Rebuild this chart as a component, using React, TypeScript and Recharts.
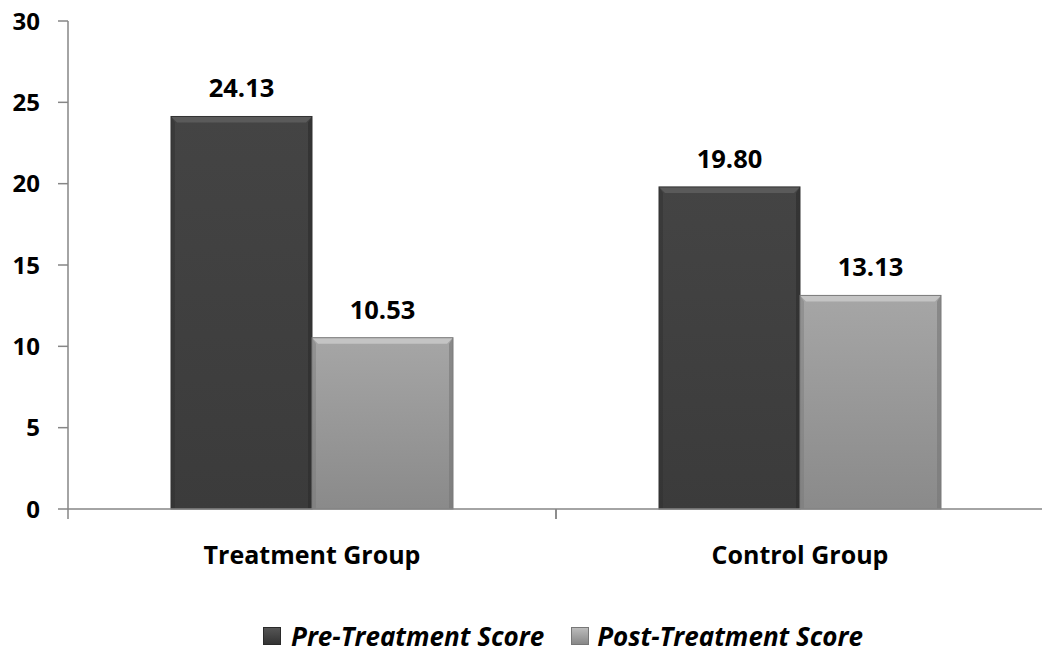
import React from "react";
import { BarChart, Bar, XAxis, YAxis, LabelList, Legend } from "recharts";

const categories = ["Treatment Group", "Control Group"];
const preScores = [24.13, 19.8];
const postScores = [10.53, 13.13];
const yTicks = [0, 5, 10, 15, 20, 25, 30];
const seriesNames = ["Pre-Treatment Score", "Post-Treatment Score"];

const data = categories.map((c, i) => ({ name: c, pre: preScores[i], post: postScores[i] }));

const FONT = "'Open Sans', 'Liberation Sans', sans-serif";

const BevelBar = (props: any) => {
  const { x, y, width, height, kind } = props;
  if (!height || height <= 0) return null;
  const dark = kind === "pre";
  const b = 6;
  const main = dark ? "url(#gPre)" : "url(#gPost)";
  const topHi = dark ? "#5a5a5a" : "#c4c4c4";
  const side = dark ? "#2c2c2c" : "#767676";
  return (
    <g>
      <rect x={x} y={y} width={width} height={height} fill={main} />
      <polygon
        points={`${x},${y} ${x + width},${y} ${x + width - b},${y + b} ${x + b},${y + b}`}
        fill={topHi}
      />
      <polygon
        points={`${x + width},${y} ${x + width},${y + height} ${x + width - b + 2},${y + height} ${x + width - b + 2},${y + b}`}
        fill={side}
        opacity={0.6}
      />
      <polygon
        points={`${x},${y} ${x},${y + height} ${x + b - 2},${y + height} ${x + b - 2},${y + b}`}
        fill={side}
        opacity={0.4}
      />
      <rect x={x} y={y} width={width} height={height} fill="none" stroke={dark ? "#333" : "#7a7a7a"} strokeWidth={1} />
    </g>
  );
};

const XTick = (props: any) => {
  const { x, y, payload } = props;
  const half = payload && payload.offset ? payload.offset : 243.8;
  return (
    <g>
      <line x1={x - half} y1={y} x2={x - half} y2={y + 10} stroke="#868686" strokeWidth={1.5} />
      <line x1={x + half} y1={y} x2={x + half} y2={y + 10} stroke="#868686" strokeWidth={1.5} />
      <text x={x} y={y + 55} textAnchor="middle" fontFamily={FONT} fontWeight={700} fontSize={25} fill="#000">
        {payload.value}
      </text>
    </g>
  );
};

const LegendContent = () => (
  <div
    style={{
      height: 26,
      display: "flex",
      justifyContent: "center",
      alignItems: "center",
      fontFamily: FONT,
      fontWeight: 700,
      fontStyle: "italic",
      fontSize: 26,
      lineHeight: "26px",
      color: "#000",
      paddingLeft: 82,
    }}
  >
    {seriesNames.map((n, i) => (
      <div key={n} style={{ display: "flex", alignItems: "center", marginRight: i === 0 ? 27 : 0 }}>
        <div
          style={{
            width: 18,
            height: 18,
            marginRight: i === 0 ? 10 : 8,
            background: i === 0 ? "linear-gradient(#555, #333)" : "linear-gradient(#bbb, #888)",
            border: i === 0 ? "1px solid #2a2a2a" : "1px solid #777",
            boxSizing: "border-box",
          }}
        />
        <span style={{ whiteSpace: "nowrap" }}>{n}</span>
      </div>
    ))}
  </div>
);

export default function App() {
  return (
    <div style={{ position: "absolute", left: 0, top: 0, width: 1042, height: 653, overflow: "hidden", background: "#fff" }}>
      <BarChart
        width={1044}
        height={653}
        data={data}
        margin={{ top: 21, right: 0, bottom: 4, left: 0 }}
        barCategoryGap={103}
        barGap={0}
      >
        <defs>
          <linearGradient id="gPre" x1="0" y1="0" x2="0" y2="1">
            <stop offset="0%" stopColor="#444" />
            <stop offset="100%" stopColor="#3b3b3b" />
          </linearGradient>
          <linearGradient id="gPost" x1="0" y1="0" x2="0" y2="1">
            <stop offset="0%" stopColor="#a6a6a6" />
            <stop offset="100%" stopColor="#8a8a8a" />
          </linearGradient>
        </defs>
        <XAxis
          dataKey="name"
          height={114}
          tickLine={false}
          tickSize={0}
          tickMargin={0}
          axisLine={{ stroke: "#868686", strokeWidth: 1.5 }}
          tick={<XTick />}
          interval={0}
        />
        <YAxis
          width={68}
          domain={[0, 30]}
          ticks={yTicks}
          tickSize={10}
          tickMargin={18}
          axisLine={{ stroke: "#868686", strokeWidth: 1.5 }}
          tickLine={{ stroke: "#868686", strokeWidth: 1.5 }}
          tick={{ fontFamily: FONT, fontWeight: 700, fontSize: 24, fill: "#000" }}
        />
        <Legend verticalAlign="bottom" content={<LegendContent />} />
        <Bar dataKey="pre" name={seriesNames[0]} isAnimationActive={false} shape={<BevelBar kind="pre" />}>
          <LabelList
            dataKey="pre"
            position="top"
            offset={19}
            formatter={(v: any) => Number(v).toFixed(2)}
            style={{ fontFamily: FONT, fontWeight: 700, fontSize: 25.5, fill: "#000" }}
          />
        </Bar>
        <Bar dataKey="post" name={seriesNames[1]} isAnimationActive={false} shape={<BevelBar kind="post" />}>
          <LabelList
            dataKey="post"
            position="top"
            offset={19}
            formatter={(v: any) => Number(v).toFixed(2)}
            style={{ fontFamily: FONT, fontWeight: 700, fontSize: 25.5, fill: "#000" }}
          />
        </Bar>
      </BarChart>
    </div>
  );
}
